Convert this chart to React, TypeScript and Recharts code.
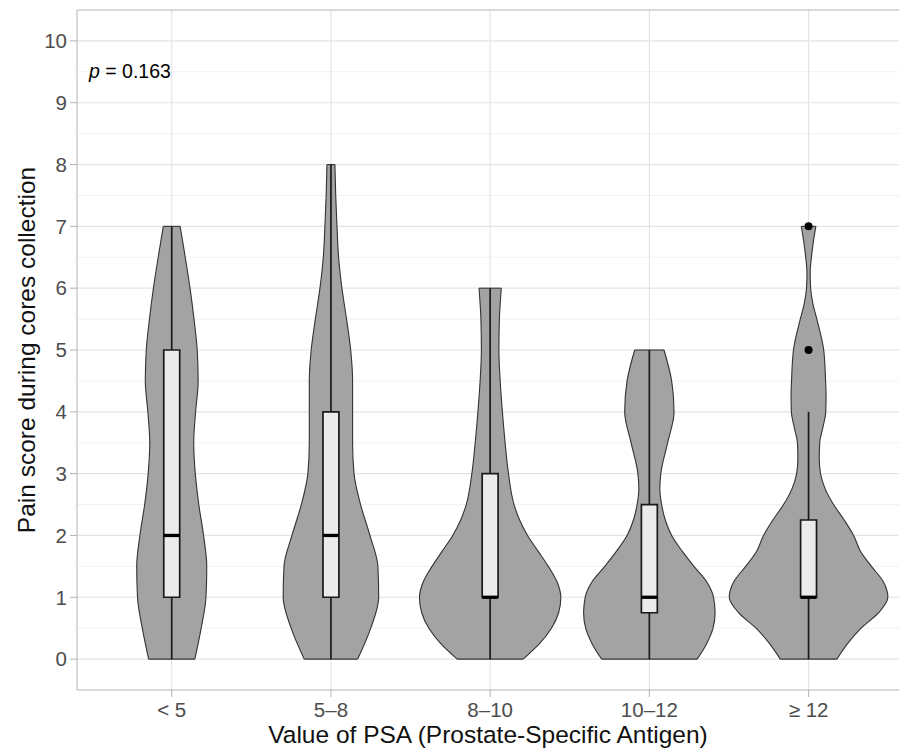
import { ComposedChart, Area, XAxis, YAxis, CartesianGrid, ReferenceLine, ReferenceArea, ReferenceDot, Label } from 'recharts'

const FONT = '"Liberation Sans", Arial, Helvetica, sans-serif'

const GROUPS = ['< 5', '5–8', '8–10', '10–12', '≥ 12']
const X_TICKS = [0, 1, 2, 3, 4]
const X_DOMAIN = [-0.595, 4.568]
const Y_DOMAIN = [-0.5, 10.5]
const Y_TICKS = [0, 1, 2, 3, 4, 5, 6, 7, 8, 9, 10]
const Y_MINOR = [0.5, 1.5, 2.5, 3.5, 4.5, 5.5, 6.5, 7.5, 8.5, 9.5]

// violin outlines: pain score levels and half-widths (in group units)
const LT5_SCORES = [0, 0.5, 1, 1.5, 2, 2.5, 3, 3.5, 4, 4.5, 5, 5.5, 6, 6.5, 7]
const LT5_WIDTH = [0.145, 0.185, 0.215, 0.22, 0.2, 0.17, 0.148, 0.138, 0.15, 0.166, 0.16, 0.14, 0.115, 0.085, 0.053]

const P5_8_SCORES = [0, 0.5, 1, 1.5, 2, 2.5, 3, 3.5, 4, 4.5, 5, 5.5, 6, 6.5, 7, 7.5, 8]
const P5_8_WIDTH = [0.168, 0.25, 0.3, 0.295, 0.245, 0.186, 0.145, 0.136, 0.136, 0.136, 0.124, 0.098, 0.069, 0.048, 0.038, 0.03, 0.025]

const P8_10_SCORES = [0, 0.25, 0.5, 0.75, 1, 1.25, 1.5, 1.75, 2, 2.25, 2.5, 3, 3.5, 4, 4.5, 5, 5.5, 6]
const P8_10_WIDTH = [0.207, 0.31, 0.385, 0.43, 0.444, 0.42, 0.365, 0.3, 0.235, 0.185, 0.15, 0.115, 0.094, 0.077, 0.063, 0.055, 0.058, 0.07]

const P10_12_SCORES = [0, 0.25, 0.5, 0.75, 1, 1.25, 1.5, 1.75, 2, 2.25, 2.5, 2.75, 3, 3.5, 4, 4.5, 5]
const P10_12_WIDTH = [0.3, 0.36, 0.4, 0.413, 0.403, 0.36, 0.28, 0.205, 0.14, 0.1, 0.077, 0.066, 0.072, 0.115, 0.155, 0.14, 0.092]

const GE12_SCORES = [0, 0.25, 0.5, 0.75, 1, 1.25, 1.5, 1.75, 2, 2.25, 2.5, 2.75, 3, 3.25, 3.5, 3.75, 4, 4.25, 4.5, 5, 5.5, 5.75, 6, 6.25, 6.5, 6.75, 7]
const GE12_WIDTH = [0.178, 0.245, 0.33, 0.44, 0.498, 0.47, 0.395, 0.325, 0.283, 0.224, 0.157, 0.105, 0.075, 0.067, 0.07, 0.09, 0.108, 0.11, 0.107, 0.095, 0.052, 0.027, 0.013, 0.01, 0.018, 0.03, 0.046]

// boxplot stats per group
const Q1 = [1, 1, 1, 0.75, 1]
const MEDIAN = [2, 2, 1, 1, 1]
const Q3 = [5, 4, 3, 2.5, 2.25]
const WHISKER_LO = [0, 0, 0, 0, 0]
const WHISKER_HI = [7, 8, 6, 5, 4]
const OUTLIER_GROUP = [4, 4]
const OUTLIER_VALUE = [5, 7]

const P_TEXT = '0.163'

const VIOLINS = [
  { scores: LT5_SCORES, widths: LT5_WIDTH },
  { scores: P5_8_SCORES, widths: P5_8_WIDTH },
  { scores: P8_10_SCORES, widths: P8_10_WIDTH },
  { scores: P10_12_SCORES, widths: P10_12_WIDTH },
  { scores: GE12_SCORES, widths: GE12_WIDTH },
]

// each violin gets its own rows: score level -> [left, right] in group units
const VIOLIN_ROWS = VIOLINS.map((v, i) =>
  v.scores.map((s, k) => ({ s, range: [i - v.widths[k], i + v.widths[k]] }))
)

const BOX_HALF = 0.05
const VIOLIN_FILL = '#a3a3a3'
const VIOLIN_LINE = '#333333'
const BOX_LINE = '#1a1a1a'
const FRAME = '#b3b3b3'
const GRID = '#e4e4e4'

const PLabel = (props: any) => {
  const { x, y } = props.viewBox
  return (
    <text x={x} y={y} fontSize={19.5} fontFamily={FONT} fill="#000">
      <tspan fontStyle="italic">p</tspan> = {P_TEXT}
    </text>
  )
}

export default function App() {
  return (
    <div style={{ position: 'absolute', left: 0, top: 0, width: 899, height: 751, overflow: 'hidden', background: '#fff' }}>
      <div style={{ position: 'absolute', left: 8, top: 8 }}>
        <ComposedChart
          width={891}
          height={743}
          layout="vertical"
          margin={{ top: 2, right: 0, bottom: 0, left: 0 }}
          style={{ fontFamily: FONT }}
        >
          <CartesianGrid horizontalValues={Y_MINOR} vertical={false} stroke="#f1f1f1" strokeWidth={1} />
          <CartesianGrid horizontalValues={Y_TICKS} vertical={false} stroke={GRID} strokeWidth={1.2} />
          {X_TICKS.map((t) => (
            <ReferenceLine key={'vg' + t} x={t} stroke={GRID} strokeWidth={1.2} zIndex={-90} />
          ))}
          <XAxis
            type="number"
            domain={X_DOMAIN}
            ticks={X_TICKS}
            tickFormatter={(v) => GROUPS[v]}
            allowDataOverflow
            height={61}
            tickSize={7}
            tickMargin={5}
            axisLine={{ stroke: FRAME }}
            tickLine={{ stroke: FRAME }}
            tick={{ fontSize: 20.5, fill: '#4d4d4d', fontFamily: FONT }}
          >
            <Label
              value="Value of PSA (Prostate-Specific Antigen)"
              position="insideBottom"
              offset={8.5}
              style={{ fontSize: 24.5, fill: '#111', fontFamily: FONT }}
            />
          </XAxis>
          <YAxis
            type="number"
            dataKey="s"
            domain={Y_DOMAIN}
            ticks={Y_TICKS}
            reversed
            allowDataOverflow
            width={69}
            tickSize={7}
            tickMargin={3}
            axisLine={{ stroke: FRAME }}
            tickLine={{ stroke: FRAME }}
            tick={{ fontSize: 20.5, fill: '#4d4d4d', fontFamily: FONT }}
          >
            <Label
              value="Pain score during cores collection"
              angle={-90}
              position="insideLeft"
              offset={18.3}
              textAnchor="middle"
              style={{ fontSize: 24.5, fill: '#111', fontFamily: FONT, textAnchor: 'middle' }}
            />
          </YAxis>
          {/* top edge of the panel frame */}
          <ReferenceLine y={Y_DOMAIN[1]} stroke={FRAME} strokeWidth={1.2} ifOverflow="visible" />

          {GROUPS.map((g, i) => (
            <Area
              key={g}
              data={VIOLIN_ROWS[i]}
              dataKey="range"
              type="monotone"
              stroke={VIOLIN_LINE}
              strokeWidth={1.1}
              fill={VIOLIN_FILL}
              fillOpacity={1}
              dot={false}
              activeDot={false}
              isAnimationActive={false}
            />
          ))}

          {VIOLINS.map((v, i) => {
            const last = v.scores.length - 1
            return [
              <ReferenceLine
                key={'cb' + i}
                segment={[{ x: i - v.widths[0], y: v.scores[0] }, { x: i + v.widths[0], y: v.scores[0] }]}
                stroke={VIOLIN_LINE}
                strokeWidth={1.1}
                zIndex={650}
              />,
              <ReferenceLine
                key={'ct' + i}
                segment={[{ x: i - v.widths[last], y: v.scores[last] }, { x: i + v.widths[last], y: v.scores[last] }]}
                stroke={VIOLIN_LINE}
                strokeWidth={1.1}
                zIndex={650}
              />,
            ]
          })}

          {GROUPS.map((g, i) => [
            <ReferenceLine
              key={'wl' + i}
              segment={[{ x: i, y: WHISKER_LO[i] }, { x: i, y: Q1[i] }]}
              stroke={BOX_LINE}
              strokeWidth={1.7}
              zIndex={700}
            />,
            <ReferenceLine
              key={'wh' + i}
              segment={[{ x: i, y: Q3[i] }, { x: i, y: WHISKER_HI[i] }]}
              stroke={BOX_LINE}
              strokeWidth={1.7}
              zIndex={700}
            />,
            <ReferenceArea
              key={'box' + i}
              x1={i - BOX_HALF}
              x2={i + BOX_HALF}
              y1={Q1[i]}
              y2={Q3[i]}
              fill="#ebebeb"
              fillOpacity={1}
              stroke={BOX_LINE}
              strokeWidth={1.7}
              zIndex={710}
            />,
            <ReferenceLine
              key={'md' + i}
              segment={[{ x: i - BOX_HALF, y: MEDIAN[i] }, { x: i + BOX_HALF, y: MEDIAN[i] }]}
              stroke="#000"
              strokeWidth={3.3}
              zIndex={720}
            />,
          ])}

          {OUTLIER_VALUE.map((v, k) => (
            <ReferenceDot
              key={'o' + k}
              x={OUTLIER_GROUP[k]}
              y={v}
              r={4}
              fill="#000"
              stroke="none"
              zIndex={730}
            />
          ))}

          <ReferenceDot x={-0.52} y={9.4} r={0} fill="none" stroke="none" label={PLabel} zIndex={740} />
        </ComposedChart>
      </div>
    </div>
  )
}
